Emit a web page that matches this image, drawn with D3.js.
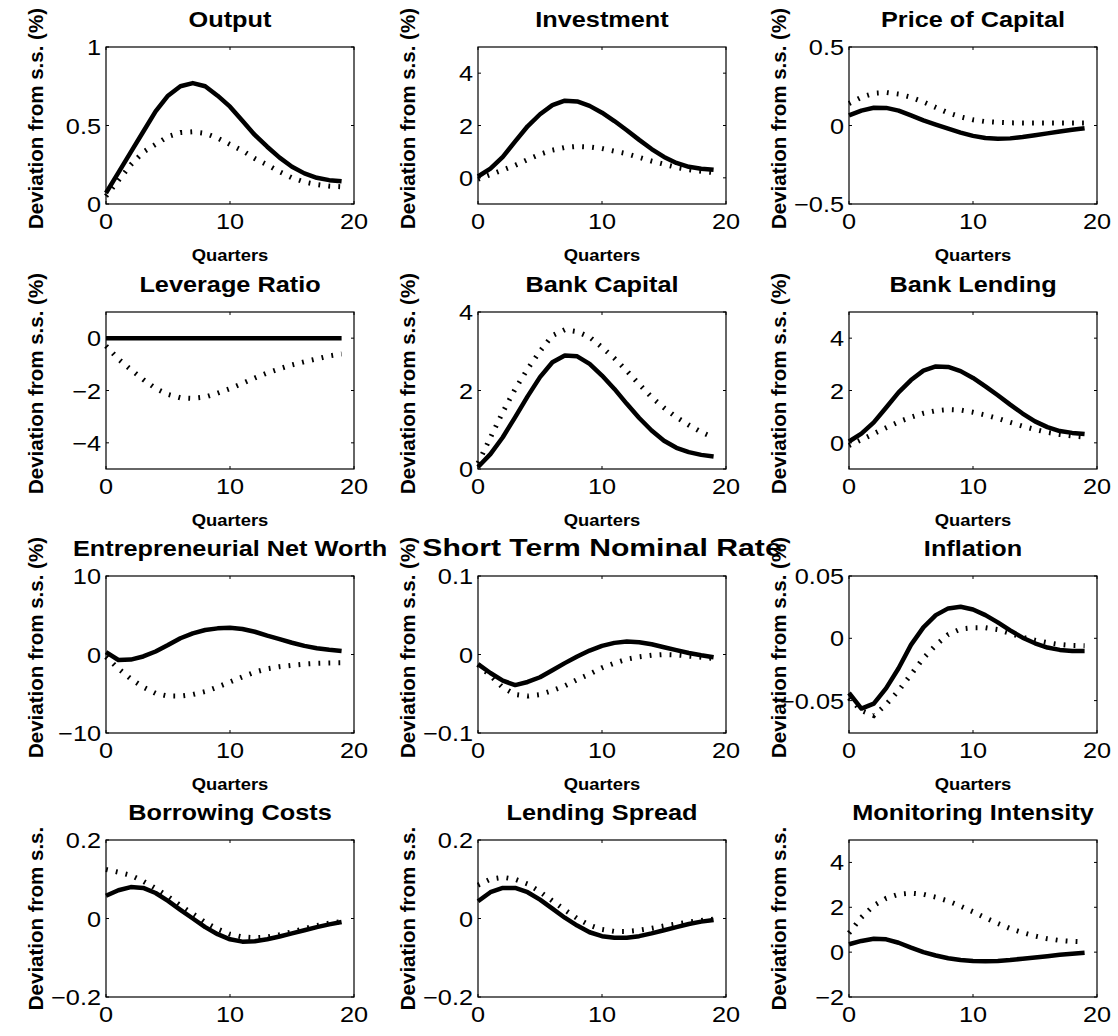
<!DOCTYPE html>
<html>
<head>
<meta charset="utf-8">
<script src="https://cdn.jsdelivr.net/npm/d3@7"></script>
<style>
  body { margin: 0; background: #fff; }
  svg { display: block; }
  text { font-family: "Liberation Sans", Arial, Helvetica, sans-serif; fill: #000; }
</style>
</head>
<body>
<svg id="fig" width="1118" height="1036"></svg>
<script>
// Horizon in quarters after the shock
const quarters = [0,1,2,3,4,5,6,7,8,9,10,11,12,13,14,15,16,17,18,19];
const xTicks = [0, 10, 20];

const titles = ["Output", "Investment", "Price of Capital",
                "Leverage Ratio", "Bank Capital", "Bank Lending",
                "Entrepreneurial Net Worth", "Short Term Nominal Rate", "Inflation",
                "Borrowing Costs", "Lending Spread", "Monitoring Intensity"];

const yLabels = ["Deviation from s.s. (%)", "Deviation from s.s. (%)", "Deviation from s.s. (%)",
                 "Deviation from s.s. (%)", "Deviation from s.s. (%)", "Deviation from s.s. (%)",
                 "Deviation from s.s. (%)", "Deviation from s.s. (%)", "Deviation from s.s. (%)",
                 "Deviation from s.s.", "Deviation from s.s.", "Deviation from s.s."];

const yDomains = [[0, 1], [-1, 5], [-0.5, 0.5],
                  [-5, 1], [0, 4], [-1, 5],
                  [-10, 10], [-0.1, 0.1], [-0.076, 0.05],
                  [-0.2, 0.2], [-0.2, 0.2], [-2, 5]];

const yTicks = [[0, 0.5, 1], [0, 2, 4], [-0.5, 0, 0.5],
                [-4, -2, 0], [0, 2, 4], [0, 2, 4],
                [-10, 0, 10], [-0.1, 0, 0.1], [-0.05, 0, 0.05],
                [-0.2, 0, 0.2], [-0.2, 0, 0.2], [-2, 0, 2, 4]];

// Solid line responses
const outputSolid     = [0.07,0.20,0.33,0.46,0.59,0.69,0.75,0.77,0.75,0.69,0.62,0.53,0.44,0.365,0.295,0.237,0.195,0.167,0.152,0.145];
const investSolid     = [0.05,0.35,0.80,1.39,1.97,2.43,2.78,2.95,2.92,2.75,2.49,2.17,1.82,1.45,1.10,0.80,0.57,0.42,0.35,0.31];
const priceSolid      = [0.065,0.095,0.113,0.112,0.095,0.064,0.033,0.006,-0.020,-0.045,-0.066,-0.080,-0.085,-0.082,-0.073,-0.062,-0.050,-0.038,-0.027,-0.017];
const leverageSolid   = [0,0,0,0,0,0,0,0,0,0,0,0,0,0,0,0,0,0,0,0];
const bankCapSolid    = [0.05,0.38,0.81,1.32,1.85,2.34,2.72,2.89,2.87,2.68,2.38,2.04,1.66,1.30,0.98,0.72,0.54,0.43,0.36,0.32];
const lendingSolid    = [0.05,0.35,0.78,1.35,1.93,2.40,2.76,2.92,2.90,2.74,2.48,2.16,1.82,1.46,1.12,0.82,0.60,0.45,0.38,0.34];
const netWorthSolid   = [0.3,-0.7,-0.65,-0.25,0.38,1.2,2.07,2.7,3.12,3.33,3.4,3.25,2.9,2.4,1.95,1.5,1.1,0.8,0.6,0.45];
const rateSolid       = [-0.0122,-0.0236,-0.0333,-0.039,-0.035,-0.029,-0.020,-0.011,-0.0025,0.005,0.011,0.0148,0.0165,0.0156,0.013,0.0093,0.0055,0.002,-0.001,-0.0034];
const inflationSolid  = [-0.0439,-0.0564,-0.0524,-0.040,-0.024,-0.0053,0.0088,0.0186,0.024,0.0253,0.0231,0.0186,0.0128,0.0064,0.0005,-0.004,-0.0074,-0.0093,-0.0101,-0.0101];
const borrowSolid     = [0.058,0.072,0.080,0.078,0.065,0.045,0.022,0.000,-0.022,-0.040,-0.053,-0.059,-0.058,-0.053,-0.046,-0.038,-0.030,-0.022,-0.015,-0.009];
const spreadSolid     = [0.044,0.067,0.078,0.078,0.067,0.048,0.025,0.002,-0.018,-0.035,-0.045,-0.049,-0.049,-0.045,-0.038,-0.030,-0.022,-0.014,-0.008,-0.004];
const monitorSolid    = [0.35,0.5,0.6,0.57,0.42,0.2,0.0,-0.15,-0.27,-0.35,-0.39,-0.41,-0.39,-0.35,-0.29,-0.24,-0.18,-0.12,-0.075,-0.03];

// Dotted line responses
const outputDotted    = [0.05,0.15,0.25,0.33,0.38,0.43,0.455,0.46,0.45,0.42,0.38,0.34,0.29,0.25,0.205,0.167,0.14,0.124,0.114,0.11];
const investDotted    = [-0.05,0.12,0.30,0.48,0.70,0.90,1.06,1.16,1.20,1.18,1.12,1.02,0.92,0.78,0.64,0.52,0.40,0.31,0.25,0.20];
const priceDotted     = [0.14,0.18,0.205,0.21,0.20,0.18,0.15,0.115,0.08,0.055,0.036,0.025,0.02,0.017,0.016,0.016,0.016,0.016,0.016,0.016];
const leverageDotted  = [-0.3,-0.8,-1.2,-1.58,-1.92,-2.15,-2.28,-2.3,-2.25,-2.1,-1.93,-1.73,-1.52,-1.33,-1.17,-1.02,-0.9,-0.79,-0.68,-0.6];
const bankCapDotted   = [0.15,0.8,1.45,2.04,2.55,3.0,3.4,3.55,3.5,3.36,3.1,2.82,2.5,2.16,1.83,1.56,1.32,1.12,0.94,0.8];
const lendingDotted   = [-0.1,0.12,0.35,0.58,0.80,0.98,1.13,1.23,1.27,1.25,1.17,1.06,0.93,0.78,0.64,0.51,0.40,0.32,0.26,0.22];
const netWorthDotted  = [-0.3,-1.8,-3.1,-4.15,-4.95,-5.3,-5.3,-5.1,-4.72,-4.15,-3.5,-2.85,-2.25,-1.81,-1.55,-1.37,-1.22,-1.12,-1.07,-1.05];
const rateDotted      = [-0.013,-0.027,-0.042,-0.051,-0.053,-0.051,-0.046,-0.040,-0.032,-0.025,-0.017,-0.011,-0.006,-0.003,-0.001,0.0,-0.0005,-0.002,-0.0035,-0.005];
const inflationDotted = [-0.048,-0.058,-0.062,-0.053,-0.042,-0.029,-0.016,-0.0055,0.003,0.0075,0.0085,0.0085,0.007,0.004,0.0008,-0.0015,-0.0035,-0.005,-0.0058,-0.006];
const borrowDotted    = [0.125,0.118,0.11,0.095,0.077,0.056,0.033,0.012,-0.010,-0.027,-0.040,-0.047,-0.049,-0.047,-0.041,-0.034,-0.026,-0.018,-0.012,-0.008];
const spreadDotted    = [0.085,0.1,0.105,0.1,0.088,0.068,0.045,0.022,0.0,-0.017,-0.028,-0.033,-0.033,-0.03,-0.025,-0.019,-0.014,-0.009,-0.005,-0.002];
const monitorDotted   = [0.85,1.55,2.08,2.4,2.58,2.63,2.58,2.45,2.28,2.05,1.8,1.53,1.28,1.05,0.87,0.72,0.6,0.52,0.48,0.46];

const solidSeries  = [outputSolid, investSolid, priceSolid, leverageSolid, bankCapSolid, lendingSolid,
                      netWorthSolid, rateSolid, inflationSolid, borrowSolid, spreadSolid, monitorSolid];
const dottedSeries = [outputDotted, investDotted, priceDotted, leverageDotted, bankCapDotted, lendingDotted,
                      netWorthDotted, rateDotted, inflationDotted, borrowDotted, spreadDotted, monitorDotted];

// Grid geometry and type sizes
const colLeft = [106, 478, 849];
const rowTop = [47, 312, 576, 840];
const W = 248, H = 157;
const TEXT_SX = 1.15;          // horizontal widening of the glyphs
const TICK_LEN = 3;
const TITLE_SIZE = 22;
const wideTitlePanel = 7;      // the policy-rate heading is set wider than the rest
const WIDE_TITLE_SIZE = 23, WIDE_TITLE_SX = 1.31;

const svg = d3.select("#fig");

function fmt(v) {
  const s = String(Math.abs(v));
  return v < 0 ? "\u2212" + s : s;
}

// Text with a horizontal stretch around its anchor point
function wideText(g, x, y, str, opts) {
  return g.append("text")
    .attr("transform", `translate(${x},${y}) scale(${opts.sx || TEXT_SX},1)`)
    .attr("text-anchor", opts.anchor || "middle")
    .attr("font-size", opts.size)
    .attr("font-weight", opts.weight || "normal")
    .text(str);
}

titles.forEach((title, i) => {
  const r = Math.floor(i / 3), c = i % 3;
  const left = colLeft[c], top = rowTop[r];
  const g = svg.append("g").attr("class", "panel").attr("transform", `translate(${left},${top})`);

  const x = d3.scaleLinear().domain([0, 20]).range([0, W]);
  const y = d3.scaleLinear().domain(yDomains[i]).range([H, 0]);

  const line = d3.line().x((d, k) => x(quarters[k])).y(d => y(d));

  // Series
  g.append("path")
    .datum(dottedSeries[i])
    .attr("d", line)
    .attr("fill", "none")
    .attr("stroke", "#000")
    .attr("stroke-width", 5)
    .attr("stroke-dasharray", "1.8 8.2")
    .attr("stroke-linecap", "butt");

  g.append("path")
    .datum(solidSeries[i])
    .attr("d", line)
    .attr("fill", "none")
    .attr("stroke", "#000")
    .attr("stroke-width", 4.5)
    .attr("stroke-linejoin", "round");

  // Box
  g.append("rect")
    .attr("x", 0).attr("y", 0).attr("width", W).attr("height", H)
    .attr("fill", "none").attr("stroke", "#000").attr("stroke-width", 1.2);

  // Inward ticks on all four sides
  const tg = g.append("g").attr("stroke", "#000").attr("stroke-width", 1);
  xTicks.forEach(t => {
    tg.append("line").attr("x1", x(t)).attr("x2", x(t)).attr("y1", H).attr("y2", H - TICK_LEN);
    tg.append("line").attr("x1", x(t)).attr("x2", x(t)).attr("y1", 0).attr("y2", TICK_LEN);
  });
  yTicks[i].forEach(t => {
    tg.append("line").attr("x1", 0).attr("x2", TICK_LEN).attr("y1", y(t)).attr("y2", y(t));
    tg.append("line").attr("x1", W).attr("x2", W - TICK_LEN).attr("y1", y(t)).attr("y2", y(t));
  });

  // Tick labels
  xTicks.forEach(t => wideText(g, x(t), H + 25, String(t), { size: 22 }));
  yTicks[i].forEach(t => wideText(g, -5, y(t) + 8, fmt(t), { size: 22, anchor: "end" }));

  // Title
  const wide = i === wideTitlePanel;
  wideText(g, W / 2, -20, title, {
    size: wide ? WIDE_TITLE_SIZE : TITLE_SIZE,
    sx: wide ? WIDE_TITLE_SX : TEXT_SX,
    weight: "bold"
  });

  // x-axis label (bottom row falls off the canvas)
  if (r < 3) wideText(g, W / 2, H + 57, "Quarters", { size: 16, weight: "bold" });

  // y-axis label
  g.append("text")
    .attr("transform", `translate(-63,${H / 2 - (yLabels[i].includes("%") ? 7 : 0)}) rotate(-90)`)
    .attr("text-anchor", "middle")
    .attr("font-size", 20.5)
    .attr("font-weight", "bold")
    .text(yLabels[i]);
});
</script>
</body>
</html>
